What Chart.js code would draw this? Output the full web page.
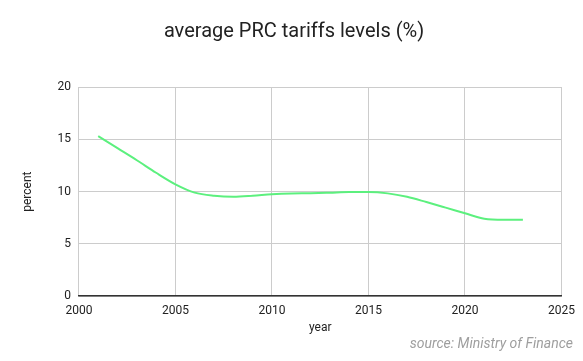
<!DOCTYPE html>
<html><head><meta charset="utf-8">
<script src="https://cdn.jsdelivr.net/npm/chart.js@4"></script>
<style>html,body{margin:0;padding:0;background:#fff}#wrap{width:583px;height:361px}</style>
</head><body><div id="wrap"><canvas id="c" width="583" height="361"></canvas></div>
<script>
const years = [2001,2002,2003,2004,2005,2006,2007,2008,2009,2010,2011,2012,2013,2014,2015,2016,2017,2018,2019,2020,2021,2022,2023];
const tariffs = [15.3,14.15,13.0,11.8,10.7,9.9,9.6,9.5,9.6,9.75,9.83,9.85,9.9,9.96,9.96,9.83,9.5,9.0,8.47,7.93,7.4,7.3,7.3];
const titleText = 'average PRC tariffs levels (%)';
const sourceText = 'source: Ministry of Finance';
const xTitle = 'year';
const yTitle = 'percent';

const sourcePlugin = {
  id: 'source',
  afterDraw(chart) {
    const ctx = chart.ctx;
    ctx.save();
    ctx.font = 'italic 14px Roboto, sans-serif';
    ctx.fillStyle = '#9e9e9e';
    ctx.textAlign = 'right';
    ctx.textBaseline = 'middle';
    ctx.fillText(sourceText, 573, 344);
    ctx.restore();
  }
};

Chart.defaults.font.family = 'Roboto, sans-serif';
Chart.defaults.color = '#222';
new Chart(document.getElementById('c'), {
  type: 'line',
  data: { datasets: [{
    data: years.map((y,i)=>({x:y, y:tariffs[i]})),
    borderColor: '#5cf07e', borderWidth: 2, pointRadius: 0, tension: 0.4, cubicInterpolationMode: 'monotone', fill: false
  }]},
  plugins: [sourcePlugin],
  options: {
    responsive: false, animation: false,
    layout: { padding: { left: 21, right: 16, top: 0, bottom: 26 } },
    plugins: {
      legend: { display: false }, tooltip: { enabled: false },
      title: { display: true, text: titleText, font: { size: 20, weight: 'normal' }, color: '#222', padding: { top: 20, bottom: 43 } }
    },
    scales: {
      x: { type: 'linear', min: 2000, max: 2025,
        ticks: { stepSize: 5, font: { size: 12 }, color: '#222', padding: 8, maxRotation: 0, callback: v => String(v) },
        grid: { color: '#cccccc', drawTicks: false }, border: { color: '#333', width: 1.5 },
        title: { display: true, text: xTitle, font: { size: 12 }, color: '#222', padding: { top: -6, bottom: 0 } } },
      y: { min: 0, max: 20,
        ticks: { stepSize: 5, font: { size: 12 }, color: '#222', padding: 8 },
        grid: { color: '#cccccc', drawTicks: false }, border: { display: false },
        title: { display: true, text: yTitle, font: { size: 12 }, color: '#222', padding: { top: 0, bottom: 14 } } }
    }
  }
});
</script></body></html>
